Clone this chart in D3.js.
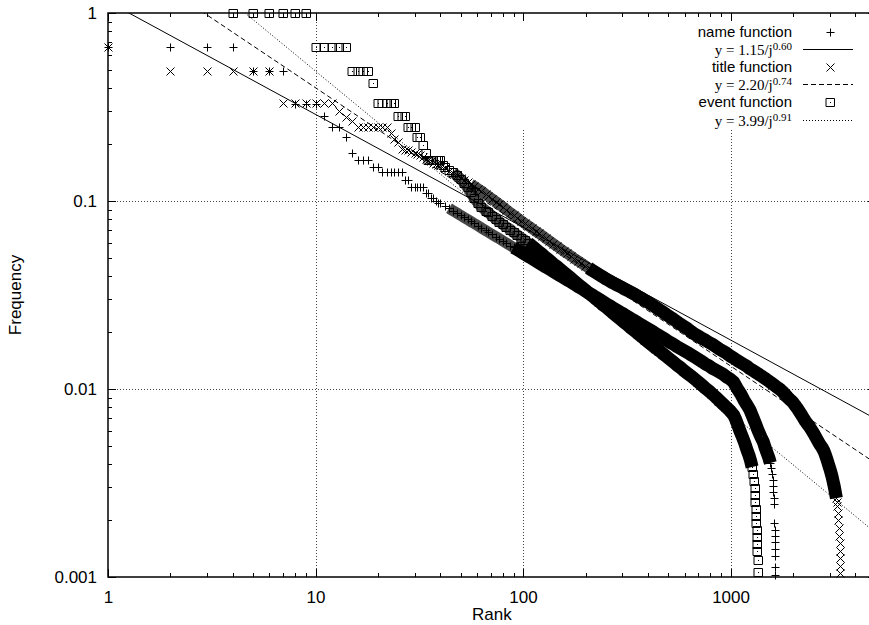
<!DOCTYPE html>
<html>
<head>
<meta charset="utf-8">
<script src="https://cdn.jsdelivr.net/npm/d3@7"></script>
<style>
  body { margin: 0; background: #fff; }
  svg { display: block; }
</style>
</head>
<body>
<svg id="chart" width="869" height="625"></svg>
<script>
// Rank / frequency pairs for each function type
const nameFreq = [
  [1,0.66],[2,0.66],[3,0.66],[4,0.66],[5,0.49],[6,0.49],[7,0.49],[8,0.33],[9,0.33],[10,0.33],
  [11,0.283],[12,0.249],[13,0.249],[14,0.22],[15,0.179],[16,0.165],[17,0.165],[18,0.165],[19,0.152],[20,0.152],
  [21,0.142],[22,0.142],[23,0.142],[24,0.142],[25,0.142],[26,0.142],[27,0.129],[28,0.129],[29,0.119],[30,0.119],
  [31,0.119],[32,0.119],[33,0.119],[34,0.11],[35,0.11],[36,0.104],[37,0.104],[38,0.1],[39,0.098],
  [40,0.0975],[42,0.0944],[44,0.0915],[46,0.0887],[48,0.0863],[50,0.0839],[52,0.0818],[54,0.0798],[56,0.0778],[58,0.0760],
  [61,0.0736],[63,0.0719],[66,0.0697],[68,0.0683],[71,0.0664],[74,0.0646],[77,0.0630],[80,0.0612],[83,0.0598],[87,0.0579],
  [90,0.0566],[94,0.0551],[98,0.0536],[102,0.0521],[106,0.0508],[110,0.0496],[115,0.0481],[119,0.0470],[124,0.0457],[129,0.0445],
  [134,0.0435],[140,0.0422],[145,0.0412],[151,0.0401],[157,0.0391],[163,0.0381],[170,0.0371],[177,0.0361],[184,0.0351],[191,0.0343],
  [199,0.0333],[207,0.0324],[215,0.0317],[224,0.0308],[233,0.0300],[242,0.0292],[252,0.0284],[262,0.0277],[272,0.0270],[283,0.0263],
  [295,0.0256],[306,0.0250],[319,0.0243],[331,0.0237],[345,0.0231],[358,0.0225],[373,0.0219],[388,0.0213],[403,0.0208],[419,0.0203],
  [436,0.0197],[454,0.0192],[472,0.0187],[491,0.0182],[510,0.0177],[531,0.0173],[552,0.0168],[574,0.0164],[597,0.0160],[621,0.0156],
  [646,0.0152],[672,0.0148],[699,0.0144],[727,0.0140],[756,0.0136],[786,0.0133],[817,0.0129],[850,0.0126],[884,0.0123],[919,0.0120],
  [956,0.0116],[994,0.0113],[1034,0.0109],
  [1075,0.0101],[1120,0.0094],[1160,0.00873],[1200,0.00822],[1240,0.00773],[1280,0.0071],[1320,0.00652],[1360,0.00598],[1400,0.00556],[1440,0.00522],
  [1470,0.00485],[1500,0.00457],[1530,0.0043],[1555,0.00404],[1575,0.0038],[1590,0.00353],[1600,0.00328],[1605,0.00305],[1610,0.00283],[1615,0.00263],[1620,0.00244],
  [1628,0.00194],[1630,0.00178],[1632,0.00165],[1634,0.00153],[1636,0.00141],[1638,0.00129],[1640,0.00113],[1642,0.00103]
];

const titleFreq = [
  [1,0.66],[2,0.49],[3,0.49],[4,0.49],[5,0.49],[6,0.49],[7,0.331],[8,0.331],[9,0.331],[10,0.331],
  [11,0.331],[12,0.331],[13,0.30],[14,0.28],[15,0.265],[16,0.249],[17,0.249],[18,0.249],[19,0.249],[20,0.249],
  [21,0.249],[22,0.249],[23,0.23],[24,0.215],[25,0.205],[26,0.19],[27,0.187],[28,0.187],[29,0.183],[30,0.18],
  [31,0.178],[32,0.175],[33,0.172],[34,0.168],[35,0.165],[36,0.163],[37,0.16],[38,0.158],[39,0.156],
  [40,0.155],[42,0.150],[44,0.145],[46,0.1406],[48,0.1368],[50,0.1327],[52,0.1291],[54,0.1259],[56,0.1227],[58,0.1199],
  [61,0.1156],[63,0.1132],[66,0.1086],[68,0.1062],[71,0.1026],[74,0.0991],[77,0.0959],[80,0.0929],[83,0.0900],[87,0.0865],
  [90,0.0843],[94,0.0813],[98,0.0785],[102,0.0760],[106,0.0738],[110,0.0718],[115,0.0692],[119,0.0675],[124,0.0653],[129,0.0632],
  [134,0.0614],[140,0.0593],[145,0.0577],[151,0.0558],[157,0.0541],[163,0.0526],[170,0.0511],[177,0.0494],[184,0.0480],[191,0.0467],
  [199,0.0453],[207,0.0440],[215,0.0428],[224,0.0416],[233,0.0405],[242,0.0395],[252,0.0384],[262,0.0375],[272,0.0366],[283,0.0358],
  [295,0.0350],[306,0.0342],[319,0.0334],[331,0.0327],[345,0.0319],[358,0.0311],[373,0.0303],[388,0.0295],[403,0.0288],[419,0.0280],
  [436,0.0272],[454,0.0264],[472,0.0257],[491,0.0249],[510,0.0242],[531,0.0235],[552,0.0228],[574,0.0221],[597,0.0215],[621,0.0209],
  [646,0.0202],[672,0.0196],[699,0.0191],[727,0.0186],[756,0.0182],[786,0.0177],[817,0.0173],[850,0.0168],[884,0.0163],[919,0.0159],
  [956,0.0155],[994,0.0150],[1034,0.0146],
  [1075,0.0142],[1122,0.0138],[1160,0.0135],[1202,0.0132],[1230,0.0129],[1259,0.0127],[1290,0.0125],[1318,0.0123],[1350,0.0121],[1380,0.0119],
  [1412,0.0117],[1445,0.0115],[1480,0.0113],[1514,0.0111],[1550,0.0109],[1585,0.0107],[1622,0.0105],[1660,0.0103],[1700,0.0101],[1738,0.00993],
  [1780,0.00968],[1820,0.00944],[1862,0.00917],[1905,0.00891],[1950,0.00871],[1995,0.00851],[2040,0.00822],[2089,0.00794],[2138,0.00763],[2188,0.00733],
  [2239,0.00704],[2291,0.00676],[2344,0.00653],[2399,0.00631],[2455,0.00606],[2512,0.00582],[2570,0.00556],[2630,0.00531],[2692,0.00507],[2754,0.0049],
  [2818,0.00468],[2851,0.00452],[2884,0.00437],[2917,0.0042],[2951,0.00403],[2985,0.00387],[3020,0.00372],[3055,0.00355],[3090,0.00339],[3126,0.0032],
  [3162,0.00302],[3199,0.00282],[3236,0.00263],[3255,0.0025],[3273,0.0024],[3296,0.00219],[3311,0.002],[3327,0.00182],[3342,0.00166],[3350,0.00151],
  [3357,0.00138],[3362,0.00126],[3366,0.00115],[3370,0.00105]
];

const eventFreq = [
  [4,1.0],[5,1.0],[6,1.0],[7,1.0],[8,1.0],[9,1.0],[10,0.66],[11,0.66],[12,0.66],[13,0.66],
  [14,0.66],[15,0.49],[16,0.49],[17,0.49],[18,0.49],[19,0.424],[20,0.331],[21,0.331],[22,0.331],[23,0.331],
  [24,0.331],[25,0.283],[26,0.283],[27,0.283],[28,0.249],[29,0.249],[30,0.249],[31,0.22],[32,0.22],[33,0.198],
  [34,0.18],[35,0.165],[36,0.165],[37,0.165],[38,0.165],[39,0.165],[40,0.165],[41,0.155],
  [42,0.152],[44,0.147],[46,0.142],[48,0.137],[50,0.131],[52,0.125],[54,0.118],[56,0.111],[58,0.104],
  [61,0.097],[63,0.093],[66,0.089],[68,0.087],[71,0.083],[74,0.080],[77,0.0775],[80,0.075],[83,0.0728],[87,0.0705],
  [90,0.068],[94,0.066],[98,0.0638],[102,0.0619],[106,0.0598],[110,0.0578],[115,0.0555],[119,0.0537],[124,0.0519],[129,0.0499],
  [134,0.0483],[140,0.0463],[145,0.0450],[151,0.0433],[157,0.0418],[163,0.0404],[170,0.0389],[177,0.0374],[184,0.0361],[191,0.0349],
  [199,0.0337],[207,0.0324],[215,0.0314],[224,0.0302],[233,0.0292],[242,0.0281],[252,0.0272],[262,0.0262],[272,0.0253],[283,0.0244],
  [295,0.0235],[306,0.0227],[319,0.0219],[331,0.0211],[345,0.0204],[358,0.0197],[373,0.0190],[388,0.0183],[403,0.0177],[419,0.0171],
  [436,0.0165],[454,0.0160],[472,0.0154],[491,0.0149],[510,0.0144],[531,0.0139],[552,0.0134],[574,0.0130],[597,0.0125],[621,0.0121],
  [646,0.0117],[672,0.0113],[699,0.0109],[727,0.0105],[756,0.0101],[786,0.00977],[817,0.00940],[850,0.00904],[884,0.00867],[919,0.00832],
  [956,0.00798],[994,0.00766],[1034,0.00728],[1055,0.00695],
  [1075,0.00659],[1110,0.00598],[1140,0.00556],[1170,0.00516],[1200,0.00474],[1225,0.00446],[1250,0.00414],[1270,0.00385],[1285,0.00353],[1295,0.00324],
  [1305,0.00297],[1312,0.00273],[1318,0.0025],[1323,0.0023],[1328,0.00211],[1332,0.00194],[1336,0.00178],[1340,0.00163],[1344,0.0015],[1348,0.00137],
  [1352,0.00123],[1357,0.00106]
];

// Power-law fits y = c / j^b
const seriesNames = ["name function", "title function", "event function"];
const fitCoef = [1.15, 2.20, 3.99];
const fitExp = [0.60, 0.74, 0.91];

// Axis ticks
const xMajor = [1, 10, 100, 1000];
const xMinor = [2,3,4,5,6,7,8,9,20,30,40,50,60,70,80,90,200,300,400,500,600,700,800,900,2000,3000,4000];
const yMajor = [0.001, 0.01, 0.1, 1];
const yMajorLabels = ["0.001", "0.01", "0.1", "1"];
const yMinor = [0.002,0.003,0.004,0.005,0.006,0.007,0.008,0.009,0.02,0.03,0.04,0.05,0.06,0.07,0.08,0.09,0.2,0.3,0.4,0.5,0.6,0.7,0.8,0.9];
const xGrid = [10, 100, 1000];
const yGrid = [0.01, 0.1];

const svg = d3.select("#chart");
const W = 869, H = 625;
const plot = { left: 108, right: 875.6, top: 13, bottom: 577 };

const x = d3.scaleLog().domain([1, 5000]).range([plot.left, plot.right]);
const y = d3.scaleLog().domain([0.001, 1]).range([plot.bottom, plot.top]);

const sansFont = "'Liberation Sans', Arial, Helvetica, sans-serif";
const serifFont = "'Liberation Serif', 'Times New Roman', Times, serif";

svg.append("rect").attr("width", W).attr("height", H).attr("fill", "#fff");

svg.append("defs").append("clipPath").attr("id", "plotClip")
  .append("rect")
  .attr("x", plot.left).attr("y", plot.top)
  .attr("width", plot.right - plot.left).attr("height", plot.bottom - plot.top);

// Dotted grid
const grid = svg.append("g").attr("stroke", "#444").attr("stroke-width", 1).attr("stroke-dasharray", "1,2");
grid.selectAll("line.gx").data(xGrid).join("line")
  .attr("x1", d => Math.round(x(d)) + 0.5).attr("x2", d => Math.round(x(d)) + 0.5)
  .attr("y1", plot.top).attr("y2", plot.bottom);
grid.selectAll("line.gy").data(yGrid).join("line")
  .attr("y1", d => Math.round(y(d)) + 0.5).attr("y2", d => Math.round(y(d)) + 0.5)
  .attr("x1", plot.left).attr("x2", plot.right);

// Key area background (grid is not drawn through the key)
svg.append("rect")
  .attr("x", 505).attr("y", plot.top + 1)
  .attr("width", W - 505).attr("height", 127 - plot.top)
  .attr("fill", "#fff");

// Axes with inward ticks on all four sides
function styleAxis(g) {
  g.select(".domain").remove();
  g.selectAll("line").attr("stroke", "#000").attr("shape-rendering", "crispEdges");
  g.selectAll("text").attr("font-family", sansFont).attr("font-size", 17).attr("fill", "#000");
  g.attr("font-family", null).attr("font-size", null);
}

svg.append("g").attr("transform", `translate(0,${plot.bottom})`)
  .call(d3.axisBottom(x).tickValues(xMajor).tickFormat(d3.format("d")).tickSize(-8).tickSizeOuter(0).tickPadding(14))
  .call(styleAxis);
svg.append("g").attr("transform", `translate(0,${plot.bottom})`)
  .call(d3.axisBottom(x).tickValues(xMinor).tickFormat(() => "").tickSize(-4).tickSizeOuter(0))
  .call(styleAxis);
svg.append("g").attr("transform", `translate(0,${plot.top})`)
  .call(d3.axisTop(x).tickValues(xMajor).tickFormat(() => "").tickSize(-8).tickSizeOuter(0))
  .call(styleAxis);
svg.append("g").attr("transform", `translate(0,${plot.top})`)
  .call(d3.axisTop(x).tickValues(xMinor).tickFormat(() => "").tickSize(-4).tickSizeOuter(0))
  .call(styleAxis);
svg.append("g").attr("transform", `translate(${plot.left},0)`)
  .call(d3.axisLeft(y).tickValues(yMajor).tickFormat((d, i) => yMajorLabels[i]).tickSize(-8).tickSizeOuter(0).tickPadding(11))
  .call(styleAxis);
svg.append("g").attr("transform", `translate(${plot.left},0)`)
  .call(d3.axisLeft(y).tickValues(yMinor).tickFormat(() => "").tickSize(-4).tickSizeOuter(0))
  .call(styleAxis);
svg.append("g").attr("transform", `translate(${plot.right},0)`)
  .call(d3.axisRight(y).tickValues(yMajor).tickFormat(() => "").tickSize(-8).tickSizeOuter(0))
  .call(styleAxis);
svg.append("g").attr("transform", `translate(${plot.right},0)`)
  .call(d3.axisRight(y).tickValues(yMinor).tickFormat(() => "").tickSize(-4).tickSizeOuter(0))
  .call(styleAxis);

// Border
svg.append("rect")
  .attr("x", plot.left).attr("y", plot.top)
  .attr("width", plot.right - plot.left).attr("height", plot.bottom - plot.top)
  .attr("fill", "none").attr("stroke", "#000").attr("stroke-width", 1.5);

// Axis titles
svg.append("text")
  .attr("x", (plot.left + plot.right) / 2).attr("y", 620)
  .attr("text-anchor", "middle")
  .attr("font-family", sansFont).attr("font-size", 17)
  .text("Rank");
svg.append("text")
  .attr("transform", `translate(21,${(plot.top + plot.bottom) / 2}) rotate(-90)`)
  .attr("text-anchor", "middle")
  .attr("font-family", sansFont).attr("font-size", 17)
  .text("Frequency");

// Point markers
const markerPaths = [
  "M-4,0H4M0,-4V4",                 // plus
  "M-4,-4L4,4M-4,4L4,-4",           // cross
  "M-4,-4H4V4H-4Z M0,0l0.01,0"      // box with centre dot
];
const fitDash = [null, "5,3", "1,2"];
const seriesData = [nameFreq, titleFreq, eventFreq];
// rank spans where overlapping markers start to crowd, then merge into a solid band
const crowdSpan = [[44, 100], [56, 210], [46, 115]];
const solidSpan = [[90, 1555], [200, 3236], [105, 1270]];

const px = v => Math.round(v) + 0.5;
const lineGen = d3.line().x(d => x(d[0])).y(d => y(d[1]));
const inSpan = (d, s) => d[0] >= s[0] && d[0] <= s[1];

seriesData.forEach((data, i) => {
  const g = svg.append("g");

  g.append("path")
    .attr("d", lineGen(data.filter(d => inSpan(d, crowdSpan[i]))))
    .attr("fill", "none").attr("stroke", "#000").attr("stroke-opacity", 0.72)
    .attr("stroke-width", 11).attr("stroke-linejoin", "round");

  g.append("path")
    .attr("d", lineGen(data.filter(d => inSpan(d, solidSpan[i]))))
    .attr("fill", "none").attr("stroke", "#000")
    .attr("stroke-width", 13).attr("stroke-linejoin", "round");

  g.append("g")
    .attr("fill", "none").attr("stroke", "#000").attr("stroke-width", 1)
    .attr("stroke-linecap", i === 2 ? "square" : "butt")
    .selectAll("path").data(data).join("path")
    .attr("transform", d => `translate(${px(x(d[0]))},${px(y(d[1]))})`)
    .attr("d", markerPaths[i]);

  // fitted power law, straight on log-log axes
  const fitPts = x.domain().map(j => [j, fitCoef[i] / Math.pow(j, fitExp[i])]);
  svg.append("path")
    .attr("clip-path", "url(#plotClip)")
    .attr("d", lineGen(fitPts))
    .attr("fill", "none").attr("stroke", "#000").attr("stroke-width", 1)
    .attr("stroke-dasharray", fitDash[i]);
});

// Key
const key = svg.append("g");
const keyTextX = 792, keySampleX = 830, keyLineX1 = 803, keyLineX2 = 853;
const rowY = k => 31.5 + 17.6 * k;
seriesNames.forEach((name, i) => {
  const yName = rowY(2 * i), yFit = rowY(2 * i + 1);
  key.append("text")
    .attr("x", keyTextX).attr("y", yName + 5.5)
    .attr("text-anchor", "end")
    .attr("font-family", sansFont).attr("font-size", 15)
    .text(name);
  key.append("path")
    .attr("transform", `translate(${px(keySampleX)},${px(yName)})`)
    .attr("d", markerPaths[i])
    .attr("fill", "none").attr("stroke", "#000").attr("stroke-width", 1)
    .attr("stroke-linecap", i === 2 ? "square" : "butt");

  const t = key.append("text")
    .attr("x", keyTextX).attr("y", yFit + 6)
    .attr("text-anchor", "end")
    .attr("font-family", serifFont).attr("font-size", 15);
  t.append("tspan").text(`y = ${fitCoef[i].toFixed(2)}/j`);
  t.append("tspan").attr("dy", -5).attr("font-size", 11).text(fitExp[i].toFixed(2));

  key.append("line")
    .attr("x1", keyLineX1).attr("x2", keyLineX2)
    .attr("y1", px(yFit)).attr("y2", px(yFit))
    .attr("stroke", "#000").attr("stroke-width", 1)
    .attr("stroke-dasharray", fitDash[i]);
});
</script>
</body>
</html>
